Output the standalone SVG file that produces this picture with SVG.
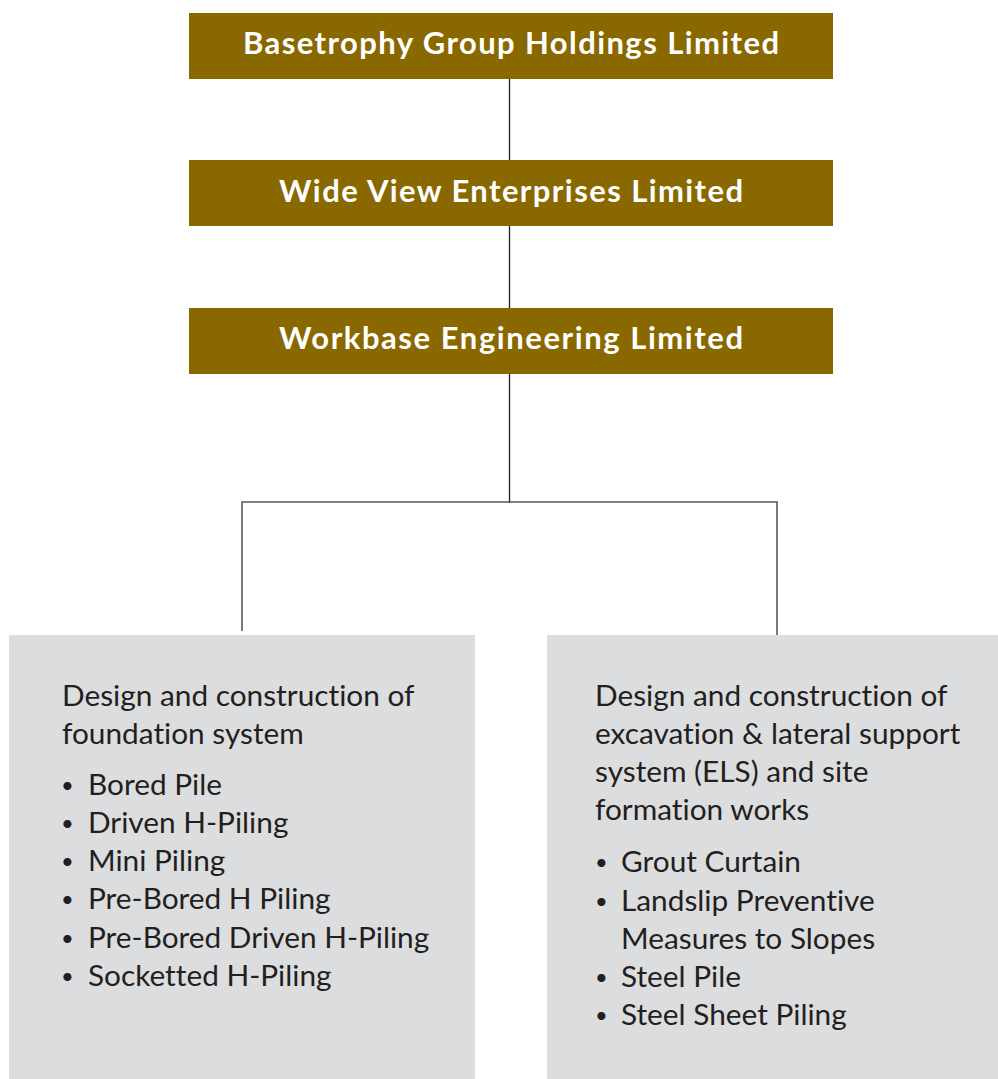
<svg xmlns="http://www.w3.org/2000/svg" width="998" height="1079" viewBox="0 0 998 1079">
  <style>
    .org { fill: #8a6800; }
    .org-label { font-family: Lato, "Open Sans", sans-serif; font-weight: 700; font-size: 31px; fill: #ffffff; text-anchor: middle; font-variant-ligatures: none; }
    .panel { fill: #dcdddf; }
    .body { font-family: Lato, "Open Sans", sans-serif; font-size: 29.8px; fill: #231f20; font-variant-ligatures: none; }
    .dot { font-family: Lato, "Open Sans", sans-serif; font-size: 22px; fill: #231f20; }
    .stem { stroke: #231f20; stroke-width: 1.3; fill: none; }
    .branch { stroke: #58595b; stroke-width: 1.6; fill: none; }
  </style>

  <g id="connectors">
    <line class="stem" x1="509.5" y1="79" x2="509.5" y2="160"/>
    <line class="stem" x1="509.5" y1="226" x2="509.5" y2="308"/>
    <line class="stem" x1="509.5" y1="374" x2="509.5" y2="503"/>
    <polyline class="branch" points="242,631 242,502 777,502 777,635"/>
  </g>

  <g id="node-basetrophy">
    <rect class="org" x="189" y="13" width="644" height="66"/>
    <text class="org-label" x="511" y="54" textLength="536" lengthAdjust="spacing">Basetrophy Group Holdings Limited</text>
  </g>

  <g id="node-wideview">
    <rect class="org" x="189" y="160" width="644" height="66"/>
    <text class="org-label" x="511" y="202" textLength="464" lengthAdjust="spacing">Wide View Enterprises Limited</text>
  </g>

  <g id="node-workbase">
    <rect class="org" x="189" y="308" width="644" height="66"/>
    <text class="org-label" x="511" y="349" textLength="464" lengthAdjust="spacing">Workbase Engineering Limited</text>
  </g>

  <g id="node-foundation">
    <rect class="panel" x="9" y="635" width="466" height="444"/>
    <text class="body" x="62" y="706">Design and construction of</text>
    <text class="body" x="62" y="744">foundation system</text>
    <text class="dot" x="61" y="793">•</text><text class="body" x="88" y="795">Bored Pile</text>
    <text class="dot" x="61" y="831">•</text><text class="body" x="88" y="833">Driven H-Piling</text>
    <text class="dot" x="61" y="869">•</text><text class="body" x="88" y="871">Mini Piling</text>
    <text class="dot" x="61" y="907">•</text><text class="body" x="88" y="909">Pre-Bored H Piling</text>
    <text class="dot" x="61" y="946">•</text><text class="body" x="88" y="948">Pre-Bored Driven H-Piling</text>
    <text class="dot" x="61" y="984">•</text><text class="body" x="88" y="986">Socketted H-Piling</text>
  </g>

  <g id="node-els">
    <rect class="panel" x="547" y="635" width="451" height="444"/>
    <text class="body" x="595" y="706">Design and construction of</text>
    <text class="body" x="595" y="744">excavation &amp; lateral support</text>
    <text class="body" x="595" y="782">system (ELS) and site</text>
    <text class="body" x="595" y="820">formation works</text>
    <text class="dot" x="595" y="870">•</text><text class="body" x="621" y="872">Grout Curtain</text>
    <text class="dot" x="595" y="909">•</text><text class="body" x="621" y="911">Landslip Preventive</text>
    <text class="body" x="621" y="949">Measures to Slopes</text>
    <text class="dot" x="595" y="985">•</text><text class="body" x="621" y="987">Steel Pile</text>
    <text class="dot" x="595" y="1023">•</text><text class="body" x="621" y="1025">Steel Sheet Piling</text>
  </g>
</svg>
